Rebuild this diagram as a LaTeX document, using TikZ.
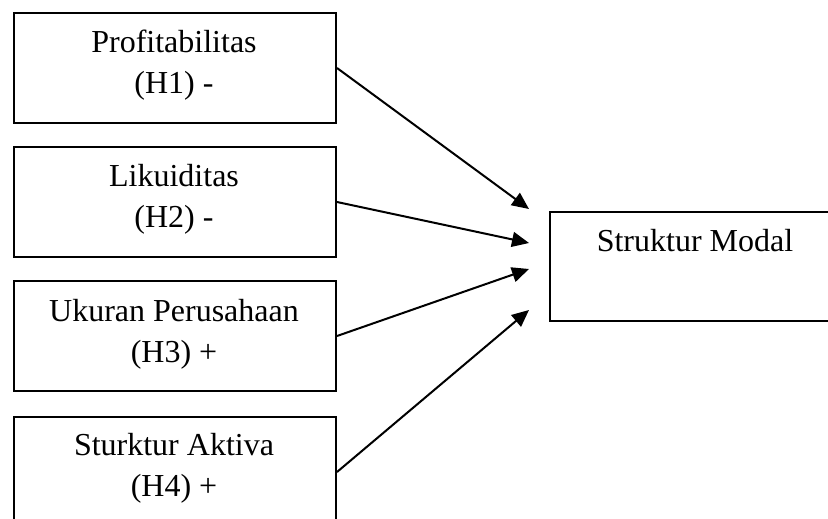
\documentclass[tikz,border=0pt]{standalone}
\usepackage{fontspec}
\setmainfont{Liberation Serif}
\usetikzlibrary{arrows.meta}
\begin{document}
\begin{tikzpicture}[x=1pt,y=-1pt,
  box/.style={draw,line width=2pt,minimum width=322pt,minimum height=110pt,inner sep=0pt,anchor=north west},
  txt/.style={font=\fontsize{32}{41}\selectfont,align=center,anchor=base,inner sep=0pt},
  arr/.style={line width=2pt,-{Triangle[length=17pt,width=15pt]}}]
\useasboundingbox (0,0) rectangle (828,519);
\node[box] (b1) at (13,12) {};
\node[box] (b2) at (13,146) {};
\node[box] (b3) at (13,280) {};
\node[box] (b4) at (13,416) {};
\node[box,minimum width=300pt,minimum height=109pt] (m) at (549,211) {};
\node[txt] (t1) at (174,93) {Profitabilitas\\(H1) -};
\node[txt] (t2) at (174,227) {Likuiditas\\(H2) -};
\node[txt] (t3) at (174,362) {Ukuran Perusahaan\\(H3) +};
\node[txt] (t4) at (174,496) {Sturktur Aktiva\\(H4) +};
\node[txt] (tm) at (695,251) {Struktur Modal};
\coordinate (e1) at (529,209);
\coordinate (e2) at (529,243);
\coordinate (e3) at (529,269);
\coordinate (e4) at (529,310);
\draw[arr] (b1.east) -- (e1);
\draw[arr] (b2.east) -- (e2);
\draw[arr] (b3.east) -- (e3);
\draw[arr] (b4.east) -- (e4);
\end{tikzpicture}
\end{document}
